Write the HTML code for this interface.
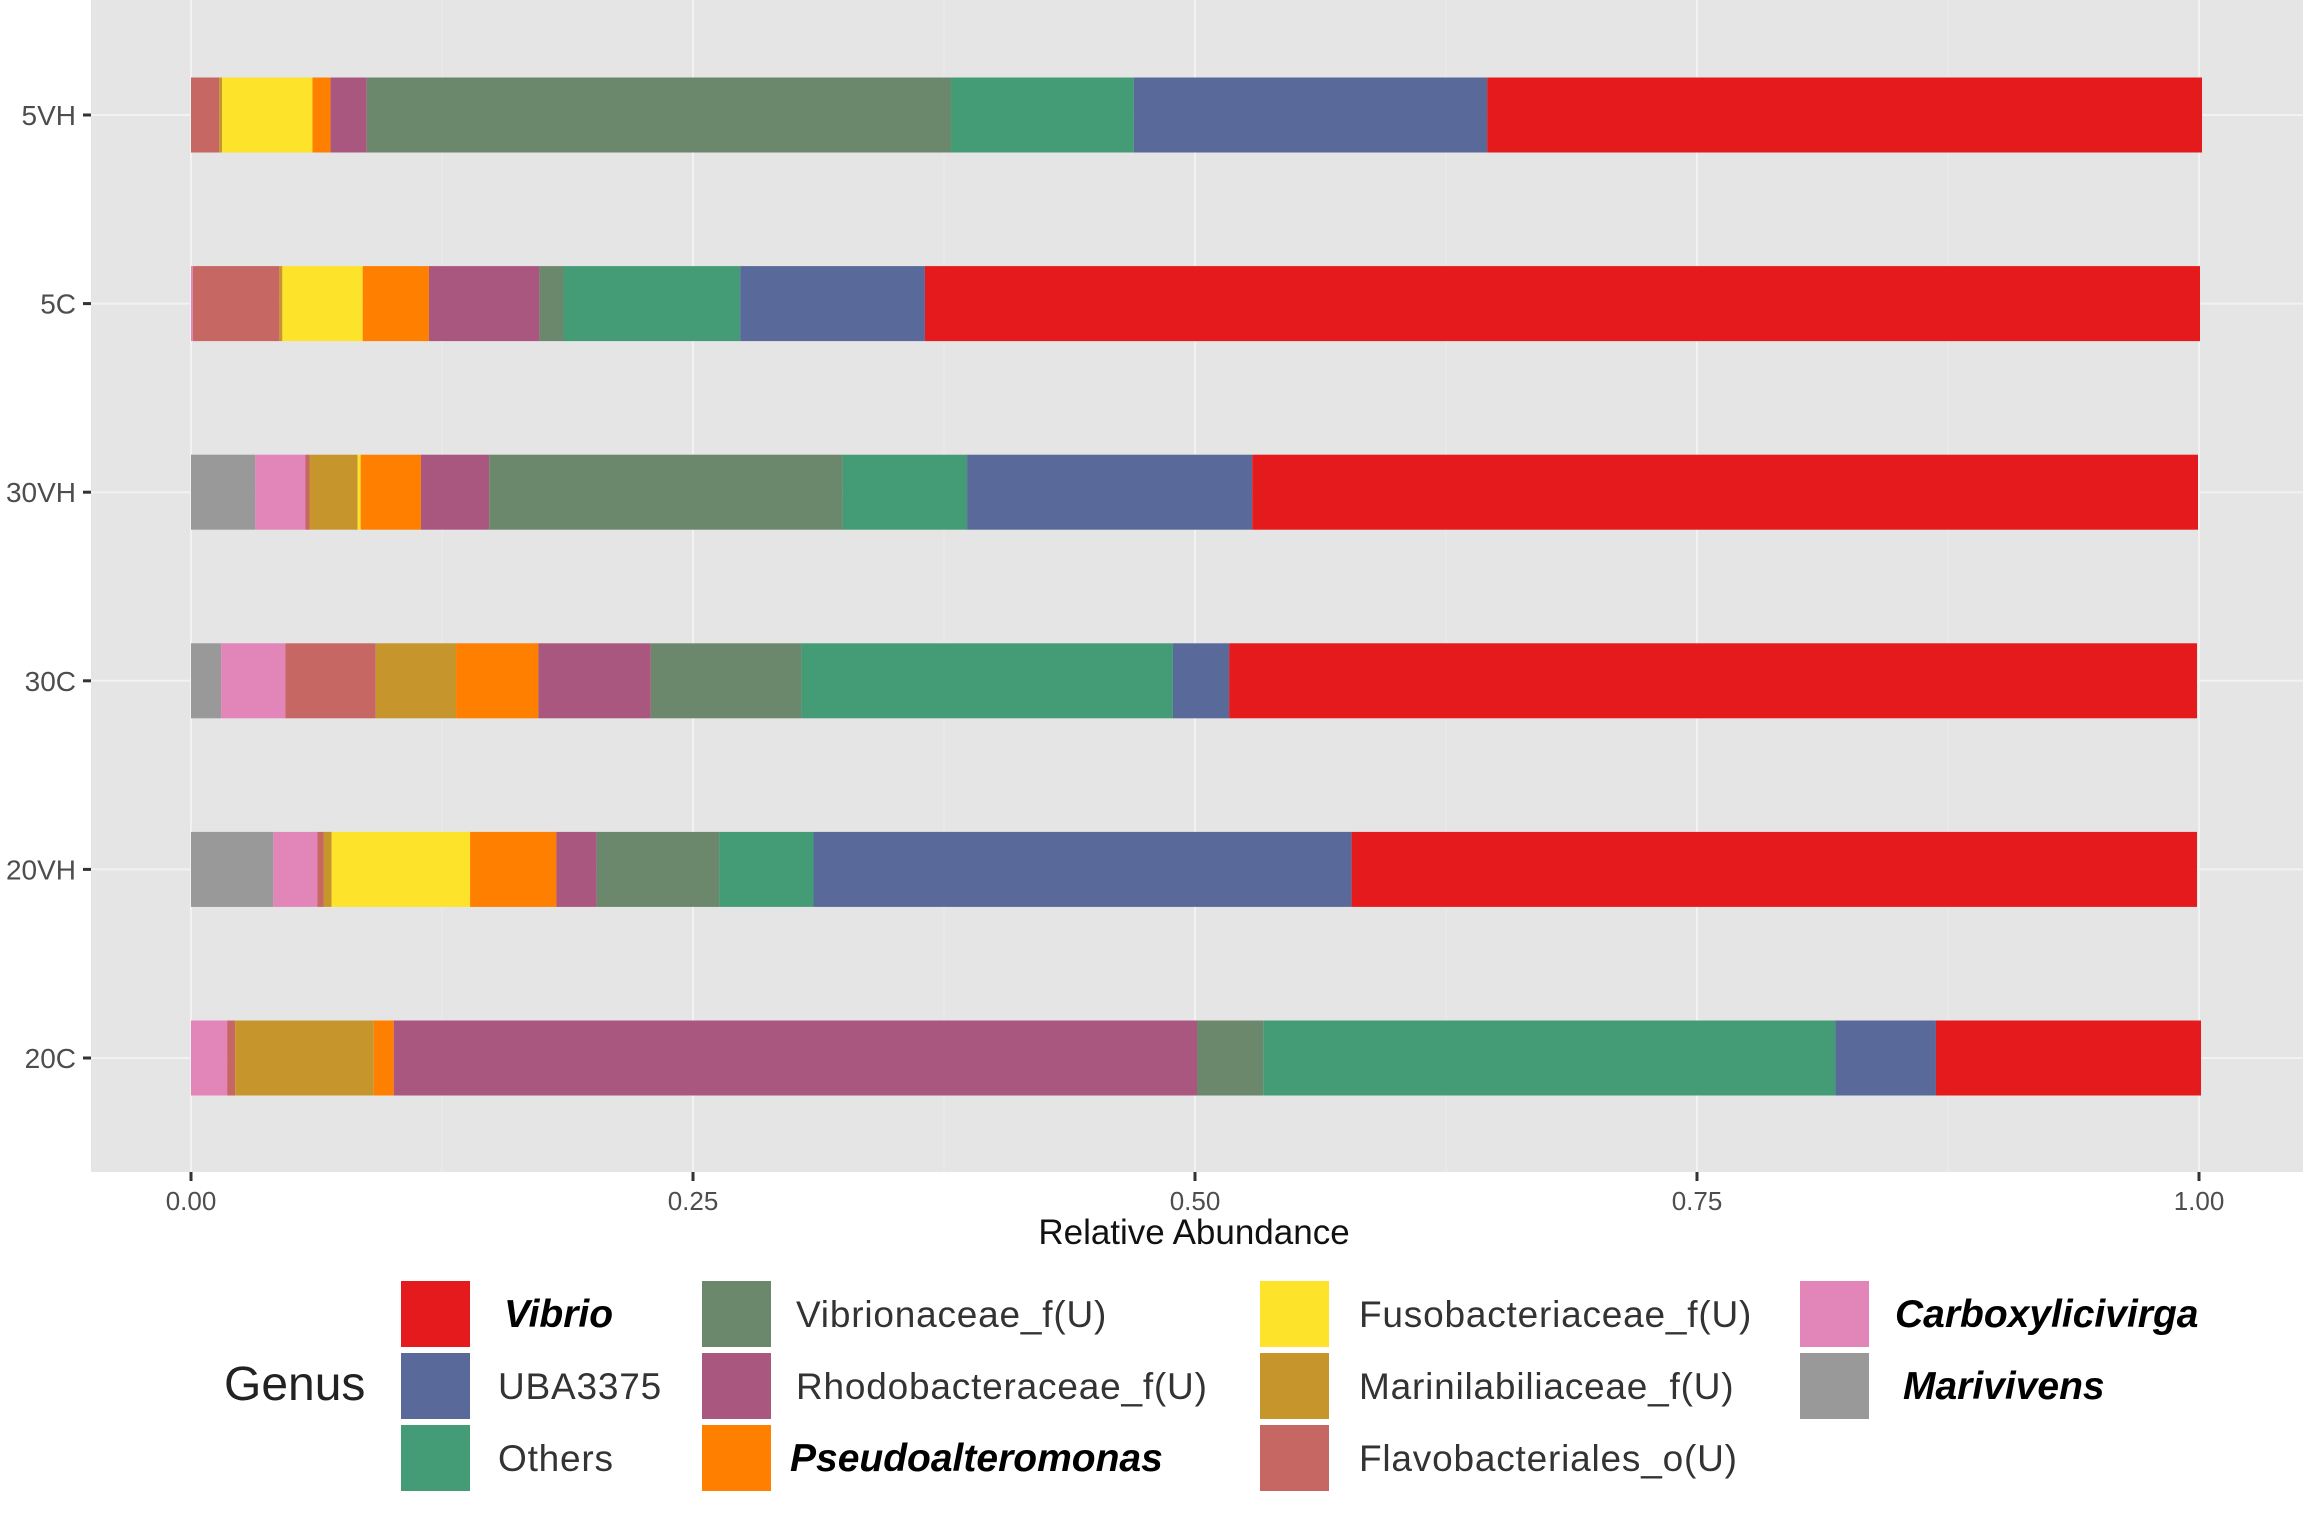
<!DOCTYPE html>
<html><head><meta charset="utf-8"><style>
body{margin:0;background:#fff;}
svg{display:block;font-family:"Liberation Sans",sans-serif;}
</style></head><body>
<svg id="chart" width="2303" height="1539" viewBox="0 0 2303 1539">
<rect x="91" y="0" width="2212" height="1172" fill="#e5e5e5"/>
<g id="grid"></g><g id="bars"></g><g id="axes"></g>
<text x="1194" y="1244" font-size="35" text-anchor="middle" fill="#111">Relative Abundance</text>
<g id="legend">
<text x="224" y="1400" font-size="48" fill="#222">Genus</text>
</g>
</svg>
<script>
const samples = ["5VH","5C","30VH","30C","20VH","20C"];
const genera = ["Marivivens","Carboxylicivirga","Flavobacteriales_o(U)","Marinilabiliaceae_f(U)","Fusobacteriaceae_f(U)","Pseudoalteromonas","Rhodobacteraceae_f(U)","Vibrionaceae_f(U)","Others","UBA3375","Vibrio"];
const colors = ["#999999","#e285b8","#c66764","#c6962c","#fde42b","#ff7f00","#a9577e","#6b886c","#449c77","#59699a","#e41a1c"];
const marivivens = [0,0,0.032,0.015,0.041,0];
const carboxylicivirga = [0,0.001,0.025,0.032,0.022,0.018];
const flavobacteriales = [0.014,0.043,0.002,0.045,0.003,0.004];
const marinilabiliaceae = [0.0015,0.0015,0.024,0.040,0.004,0.069];
const fusobacteriaceae = [0.045,0.040,0.0015,0,0.069,0];
const pseudoalteromonas = [0.009,0.033,0.030,0.041,0.043,0.010];
const rhodobacteraceae = [0.018,0.055,0.034,0.056,0.020,0.400];
const vibrionaceae = [0.291,0.012,0.176,0.075,0.061,0.033];
const others = [0.091,0.088,0.062,0.185,0.047,0.285];
const uba3375 = [0.176,0.092,0.142,0.028,0.268,0.050];
const vibrio = [0.356,0.635,0.471,0.482,0.421,0.132];
const xTicks = [0,0.25,0.5,0.75,1];
const xTickLabels = ["0.00","0.25","0.50","0.75","1.00"];
const series=[marivivens,carboxylicivirga,flavobacteriales,marinilabiliaceae,fusobacteriaceae,pseudoalteromonas,rhodobacteraceae,vibrionaceae,others,uba3375,vibrio];
const NS="http://www.w3.org/2000/svg";
const X0=191,X1=2199;
const x=v=>X0+v*(X1-X0);
const yc=i=>115+i*188.6;
const BH=75;
function mk(t,a,p){const e=document.createElementNS(NS,t);for(const k in a)e.setAttribute(k,a[k]);p.appendChild(e);return e;}
const grid=document.getElementById('grid'),bars=document.getElementById('bars'),axes=document.getElementById('axes');
for(let i=0;i<xTicks.length;i++){
  const gx=mk('line',{x1:x(xTicks[i]),x2:x(xTicks[i]),y1:0,y2:1172,stroke:'#f2f2f2','stroke-width':2},grid);
  
  
  if(i<xTicks.length-1){
    const m=mk('line',{x1:x((xTicks[i]+xTicks[i+1])/2),x2:x((xTicks[i]+xTicks[i+1])/2),y1:0,y2:1172,stroke:'#ececec','stroke-width':1},grid);
    
    
  }
  const tk=mk('line',{x1:x(xTicks[i]),x2:x(xTicks[i]),y1:1172,y2:1181,stroke:'#333','stroke-width':3},axes);
  
  
  const tl=mk('text',{x:x(xTicks[i]),y:1210,'font-size':26,'text-anchor':'middle',fill:'#4d4d4d'},axes);
  tl.textContent=xTickLabels[i];
  
  
}
samples.forEach((s,i)=>{
  const gl=mk('line',{x1:91,x2:2303,y1:yc(i),y2:yc(i),stroke:'#f2f2f2','stroke-width':2},grid);
  
  
  const tk=mk('line',{x1:83,x2:91,y1:yc(i),y2:yc(i),stroke:'#333','stroke-width':3},axes);
  
  
  const tl=mk('text',{x:76,y:yc(i)+10,'font-size':28,'text-anchor':'end',fill:'#4d4d4d'},axes);
  tl.textContent=s;
  
  
  let cum=0;
  series.forEach((arr,g)=>{
    const v=arr[i];
    if(v>0){
      const r=mk('rect',{x:x(cum),y:yc(i)-BH/2,width:x(cum+v)-x(cum),height:BH,fill:colors[g]},bars);
      
      
    }
    cum+=v;
  });
});
const legendItems=[
 ["Vibrio",10,401,1281,504,true],["UBA3375",9,401,1353,498,false],["Others",8,401,1425,498,false],
 ["Vibrionaceae_f(U)",7,702,1281,796,false],["Rhodobacteraceae_f(U)",6,702,1353,796,false],["Pseudoalteromonas",5,702,1425,790,true],
 ["Fusobacteriaceae_f(U)",4,1260,1281,1359,false],["Marinilabiliaceae_f(U)",3,1260,1353,1359,false],["Flavobacteriales_o(U)",2,1260,1425,1359,false],
 ["Carboxylicivirga",1,1800,1281,1895,true],["Marivivens",0,1800,1353,1903,true]];
const lg=document.getElementById('legend');
legendItems.forEach(it=>{
  const r=mk('rect',{x:it[2],y:it[3],width:69,height:66,fill:colors[it[1]]},lg);
  
  
  const t=mk('text',{x:it[4],y:it[3]+46,'font-size':it[5]?39:37,fill:it[5]?'#000':'#333','font-style':it[5]?'italic':'normal','font-weight':it[5]?'bold':'normal','letter-spacing':it[5]?0:0.8},lg);
  t.textContent=it[0];
  
  
});
</script>
</body></html>
